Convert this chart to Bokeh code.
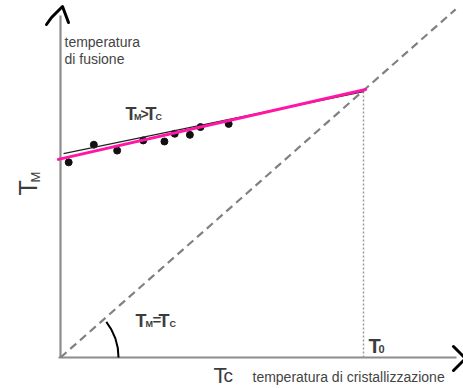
import math
from bokeh.plotting import figure
from bokeh.models import Range1d
from bokeh.embed import file_html
from bokeh.resources import INLINE
from bokeh.core.properties import value

# ---- schematic data (units: T0 = 100) ----
tc_points = [2.7, 11.0, 18.7, 27.3, 34.3, 37.7, 42.7, 46.2, 55.5]
tm_points = [73.1, 79.7, 77.5, 81.3, 80.9, 83.8, 83.4, 86.3, 87.5]
fit_tc = [1.0, 100.0]          # extrapolated black line
fit_tm = [76.4, 99.6]
hand_tc = [-0.7, 100.7]        # magenta hand-drawn line
hand_tm = [74.2, 100.4]
diag_tc = [0.0, 130.4]         # Tm = Tc line
diag_tm = [0.0, 130.4]
T0 = 100.0

# ---- layout helpers (reference pixel -> data) ----
SX, SY = 3.03, 2.67
OX, OY = 60, 357
def dx(px):
    return (px - OX) / SX
def dy(py):
    return (OY - py) / SY

W, H = 463, 388
p = figure(width=W, height=H, output_backend="svg", toolbar_location=None,
           x_range=Range1d(dx(0), dx(W)), y_range=Range1d(dy(H), dy(0)),
           min_border=0, min_border_left=0, min_border_right=0,
           min_border_top=0, min_border_bottom=0)
p.axis.visible = False
p.grid.visible = False
p.outline_line_color = None
p.background_fill_color = "white"
p.border_fill_color = "white"

AXC = "#8c8c8c"
TXC = "#3c3c3c"
FONT = value("Liberation Sans")

# axes
p.line(x=[0, 0], y=[0, dy(15)], line_color=AXC, line_width=2.2)
p.line(x=[dx(58), dx(456)], y=[0, 0], line_color=AXC, line_width=2.2)

# hand-drawn arrow heads
p.line(x=[dx(46), dx(51), dx(62), dx(68)], y=[dy(24), dy(17), dy(6), dy(22)],
       line_color="black", line_width=3, line_join="round", line_cap="round")
p.line(x=[dx(453), dx(465), dx(453)], y=[dy(346), dy(358), dy(370)],
       line_color="black", line_width=3, line_join="round", line_cap="round")

# Tm = Tc dashed line
p.line(x=diag_tc, y=diag_tm, line_color="#808080", line_width=2.2, line_dash="8 5")
# T0 dotted line
p.line(x=[T0, T0], y=[0, T0], line_color="#9a9a9a", line_width=1.5, line_dash="2 2")

# angle arc
p.arc(x=[0], y=[0], radius=58, radius_units="screen", start_angle=0.0, end_angle=0.66,
      line_color="black", line_width=2)

# data points and lines
p.scatter(x=tc_points, y=tm_points, size=7, color="#111111")
p.line(x=fit_tc, y=fit_tm, line_color="#222222", line_width=1.3)
p.line(x=hand_tc, y=hand_tm, line_color="#ff16a6", line_width=3, line_cap="round")

def txt(s, px, py, size, bold=False, angle=0.0, color=TXC):
    p.text(x=[dx(px)], y=[dy(py)], text=[s], text_font=FONT,
           text_font_size=f"{size}px", text_font_style="bold" if bold else "normal",
           text_color=color, angle=angle, text_align="left", text_baseline="alphabetic")

# labels
txt("temperatura", 64, 41, 14, color="#444444")
txt("di fusione", 64, 58, 14, color="#444444")
txt("T", 27, 195, 25, angle=math.pi / 2)
txt("M", 35, 182, 13, angle=math.pi / 2)

txt("T", 125, 113, 18, bold=True)
txt("M", 133.5, 116.5, 9, bold=True)
txt(">", 140, 113, 14, bold=True)
txt("T", 145, 113, 18, bold=True)
txt("C", 155, 116.5, 9, bold=True)

txt("T", 135, 320, 18, bold=True)
txt("M", 145, 323, 9, bold=True)
txt("=", 152, 319, 15, bold=True)
txt("T", 158, 320, 18, bold=True)
txt("C", 169, 323, 9, bold=True)

txt("T", 368, 345, 20, bold=True)
txt("0", 378, 348, 11, bold=True)

txt("T", 213, 375, 22)
txt("c", 223, 375, 19)
txt("temperatura di cristallizzazione", 252, 376, 14, color="#444444")

open("out.html", "w").write(file_html(p, INLINE))
